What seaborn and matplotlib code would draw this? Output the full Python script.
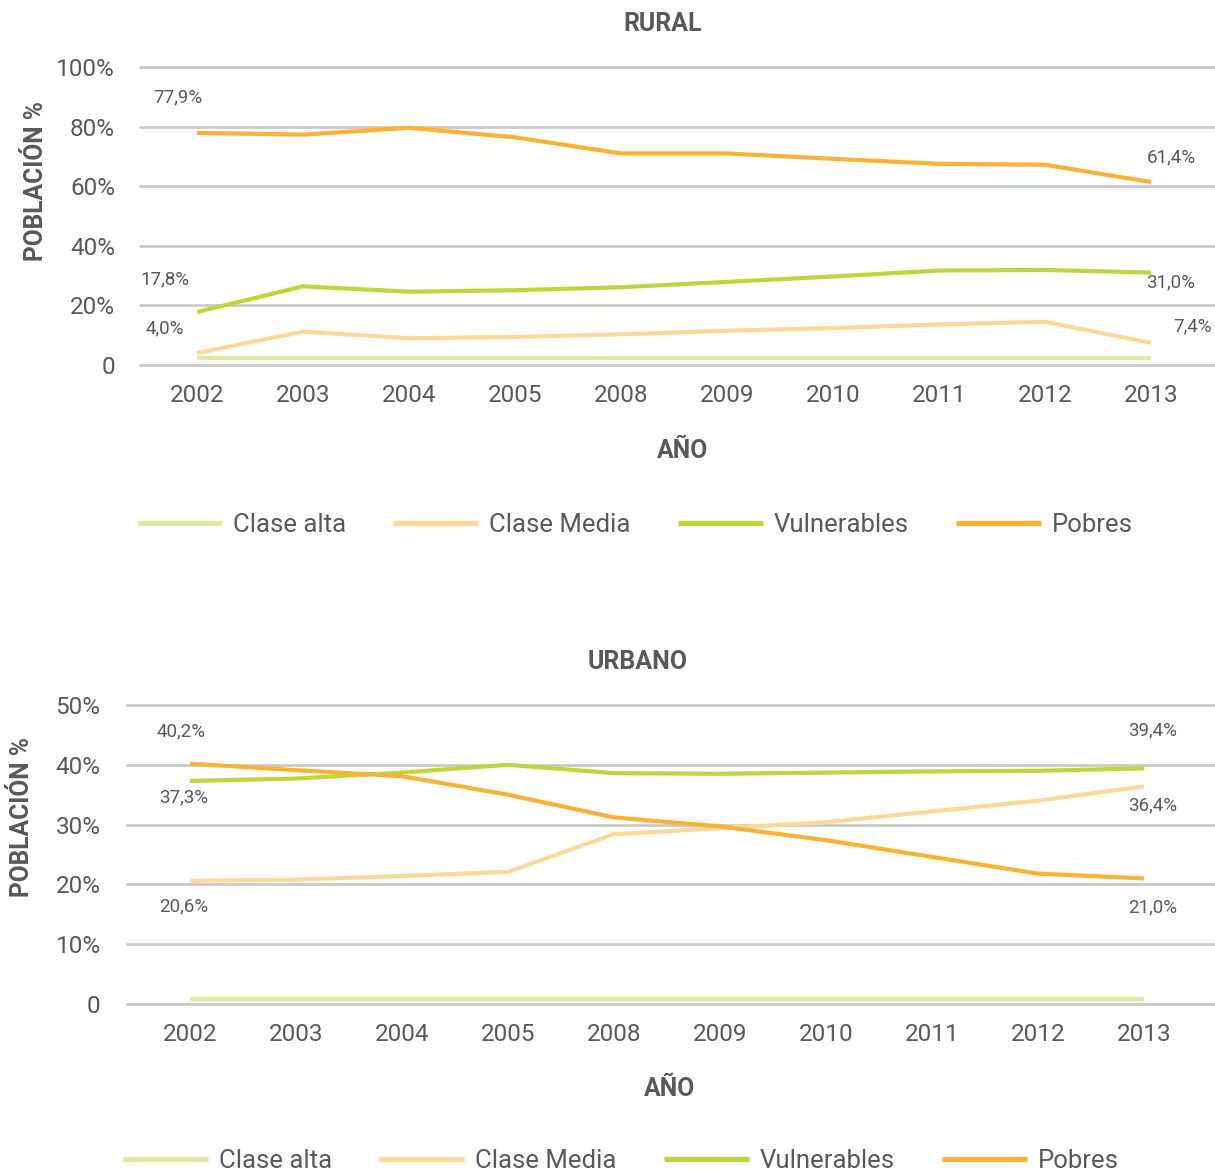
import matplotlib
matplotlib.use("Agg")
import matplotlib.pyplot as plt
import pandas as pd
import seaborn as sns

# ---- data -------------------------------------------------------------
years = ["2002", "2003", "2004", "2005", "2008", "2009", "2010", "2011", "2012", "2013"]
classes = ["Clase alta", "Clase Media", "Vulnerables", "Pobres"]

rural_alta = [2.2, 2.2, 2.2, 2.2, 2.2, 2.2, 2.2, 2.2, 2.2, 2.2]
rural_media = [4.0, 11.2, 9.0, 9.4, 10.3, 11.5, 12.4, 13.6, 14.5, 7.4]
rural_vuln = [17.8, 26.4, 24.6, 25.1, 26.1, 27.9, 29.7, 31.7, 31.9, 31.0]
rural_pobres = [77.9, 77.3, 79.6, 76.4, 71.0, 71.0, 69.2, 67.5, 67.2, 61.4]

urban_alta = [0.8, 0.8, 0.8, 0.8, 0.8, 0.8, 0.8, 0.8, 0.8, 0.8]
urban_media = [20.6, 20.8, 21.4, 22.1, 28.4, 29.4, 30.4, 32.2, 34.0, 36.4]
urban_vuln = [37.3, 37.7, 38.7, 40.0, 38.6, 38.5, 38.7, 38.9, 39.0, 39.4]
urban_pobres = [40.2, 39.1, 38.1, 35.0, 31.2, 29.7, 27.4, 24.6, 21.8, 21.0]

rural_yticks = [0, 20, 40, 60, 80, 100]
rural_yticklabels = ["0", "20%", "40%", "60%", "80%", "100%"]
urban_yticks = [0, 10, 20, 30, 40, 50]
urban_yticklabels = ["0", "10%", "20%", "30%", "40%", "50%"]

# ---- style ------------------------------------------------------------
colors = ["#DFE9A2", "#FDD89A", "#BED63A", "#F9B233"]
TXT = "#595959"
GRID = "#CACACA"

sns.set_style("white")
plt.rcParams["font.family"] = ["Roboto", "DejaVu Sans"]

W, H = 1215, 1173
fig = plt.figure(figsize=(W / 100, H / 100), dpi=100)


def long_frame(series):
    rows = []
    for name, vals in zip(classes, series):
        for y, v in zip(years, vals):
            rows.append({"year": y, "valor": v, "clase": name})
    return pd.DataFrame(rows)


def pct(v):
    return f"{v:.1f}".replace(".", ",") + "%"


def draw_panel(rect, series, yticks, yticklabels, ymax, x0_px, ypad):
    ax = fig.add_axes(rect)
    df = long_frame(series)
    sns.lineplot(data=df, x="year", y="valor", hue="clase", hue_order=classes,
                 palette=colors, linewidth=3.0, sort=False, legend=False, ax=ax)
    ax.set_ylim(0, ymax)
    width_px = rect[2] * W
    left_px = rect[0] * W
    step = 106.0
    ax.set_xlim(-(x0_px - left_px) / step, (left_px + width_px - x0_px) / step)
    ax.set_yticks(yticks)
    ax.set_yticklabels(yticklabels)
    ax.set_xticks(range(len(years)))
    ax.set_xticklabels(years)
    ax.tick_params(axis="both", length=0, labelsize=17.5, colors=TXT)
    ax.tick_params(axis="y", pad=ypad)
    ax.tick_params(axis="x", pad=14)
    ax.set_xlabel("")
    ax.set_ylabel("")
    for s in ax.spines.values():
        s.set_visible(False)
    ax.grid(axis="y", color=GRID, linewidth=2.0)
    ax.grid(axis="x", visible=False)
    ax.set_axisbelow(True)
    for gl in ax.get_ygridlines():
        gl.set_clip_on(False)
    for ln in ax.get_lines():
        ln.set_solid_capstyle("butt")
    return ax


def label(ax, vals, i, dx, dy, ha="center"):
    ax.annotate(pct(vals[i]), xy=(i, vals[i]), xytext=(dx, dy),
                textcoords="offset pixels", ha=ha, va="center",
                fontsize=13.5, color=TXT, annotation_clip=False)


# ---- RURAL ------------------------------------------------------------
ax1 = draw_panel([140 / W, 1 - 365 / H, 1 - 140 / W, 298 / H],
                 [rural_alta, rural_media, rural_vuln, rural_pobres],
                 rural_yticks, rural_yticklabels, 100, 197, 18)
label(ax1, rural_pobres, 0, -19, 35)
label(ax1, rural_vuln, 0, -32, 33)
label(ax1, rural_media, 0, -32, 25)
label(ax1, rural_pobres, 9, 20, 25)
label(ax1, rural_vuln, 9, 20, -10)
label(ax1, rural_media, 9, 22, 17, ha="left")

fig.text(663 / W, 1 - 24 / H, "RURAL", ha="center", va="center",
         fontsize=18, fontweight="bold", color=TXT)
fig.text(36 / W, 1 - 181 / H, "POBLACIÓN %", ha="center", va="center",
         rotation=90, fontsize=17.7, fontweight="bold", color=TXT)
fig.text(683 / W, 1 - 451 / H, "AÑO", ha="center", va="center",
         fontsize=17.8, fontweight="bold", color=TXT)

# ---- URBANO -----------------------------------------------------------
ax2 = draw_panel([127 / W, 1 - 1004 / H, 1 - 127 / W, 299 / H],
                 [urban_alta, urban_media, urban_vuln, urban_pobres],
                 urban_yticks, urban_yticklabels, 50, 190, 19)
label(ax2, urban_pobres, 0, -9, 32)
label(ax2, urban_vuln, 0, -6, -16)
label(ax2, urban_media, 0, -6, -26)
label(ax2, urban_vuln, 9, 9, 38)
label(ax2, urban_media, 9, 9, -19)
label(ax2, urban_pobres, 9, 9, -29)

fig.text(638 / W, 1 - 662 / H, "URBANO", ha="center", va="center",
         fontsize=18, fontweight="bold", color=TXT)
fig.text(22 / W, 1 - 817 / H, "POBLACIÓN %", ha="center", va="center",
         rotation=90, fontsize=17.7, fontweight="bold", color=TXT)
fig.text(670 / W, 1 - 1089 / H, "AÑO", ha="center", va="center",
         fontsize=17.8, fontweight="bold", color=TXT)

# ---- legends ----------------------------------------------------------
handles = [plt.Line2D([], [], color=c, linewidth=3.8, solid_capstyle="butt") for c in colors]
for x_px, y_px in [(137, 525), (123, 1161)]:
    fig.legend(handles, classes, loc="center left",
               bbox_to_anchor=(x_px / W, 1 - y_px / H), ncol=4, frameon=False,
               fontsize=18.5, labelcolor=TXT, handlelength=3.3, handletextpad=0.42,
               columnspacing=1.85, borderpad=0, borderaxespad=0)

fig.savefig("out.png", dpi=100)
